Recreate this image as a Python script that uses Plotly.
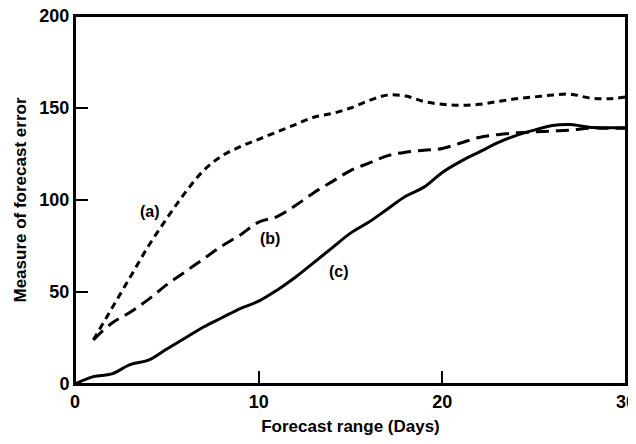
import plotly.graph_objects as go

# curve (a): short dashes
days_a = [1, 2, 3, 4, 5, 6, 7, 8, 9, 10, 11, 12, 13, 14, 15, 16, 17, 18, 19, 20,
          21, 22, 23, 24, 25, 26, 27, 28, 29, 30]
err_a = [24, 41, 58, 75, 90, 104, 116, 124, 129, 133, 137, 141, 145, 147, 150, 154, 157, 156.5, 153.5, 152,
         151.5, 152, 153.5, 155, 156, 157, 157.5, 155.5, 155, 156]

# curve (b): long dashes
days_b = [1, 2, 3, 4, 5, 6, 7, 8, 9, 10, 11, 12, 13, 14, 15, 16, 17, 18, 19, 20,
          21, 22, 23, 24, 25, 26, 27, 28, 29, 30]
err_b = [24, 33, 39, 46, 54, 61, 68, 75, 81, 88, 91, 97, 104, 110, 116, 120, 124, 126, 127, 128,
         131, 134, 135.5, 136.5, 137, 137.5, 138, 139, 139, 139]

# curve (c): solid
days_c = [0, 1, 2, 3, 4, 5, 6, 7, 8, 9, 10, 11, 12, 13, 14, 15, 16, 17, 18, 19,
          20, 21, 22, 23, 24, 25, 26, 27, 28, 29, 30]
err_c = [0, 4, 5.5, 10.5, 13, 19, 25, 31, 36, 41, 45, 51, 58, 66, 74, 82, 88, 95, 102, 107,
         115, 121, 126, 131, 135, 138, 140.5, 141, 139.5, 139.3, 139.3]

labels = ["<b>(a)</b>", "<b>(b)</b>", "<b>(c)</b>"]
label_x = [4.1, 10.6, 14.4]
label_y = [93.5, 79, 61]

font = "Liberation Sans, Arial, sans-serif"

fig = go.Figure()
fig.add_scatter(x=days_a, y=err_a, mode="lines", line=dict(color="black", width=3, dash="7px,5px", shape="spline"))
fig.add_scatter(x=days_b, y=err_b, mode="lines", line=dict(color="black", width=3, dash="13px,7px", shape="spline"))
fig.add_scatter(x=days_c, y=err_c, mode="lines", line=dict(color="black", width=3, shape="spline"))

for t, lx, ly in zip(labels, label_x, label_y):
    fig.add_annotation(x=lx, y=ly, text=t, showarrow=False, font=dict(size=16, color="black", family=font))

# frame round the plot area
fig.add_shape(type="rect", xref="paper", yref="paper", x0=0, y0=0, x1=1, y1=1,
              line=dict(color="black", width=2), layer="above")

axis_style = dict(showline=True, linecolor="black", linewidth=2, mirror=True, ticks="inside", ticklen=13,
                  tickwidth=2, tickcolor="black", showgrid=False, zeroline=False, automargin=False,
                  ticklabeloverflow="allow",
                  tickfont=dict(size=18, color="black", family=font, weight="bold"))

# page body adds an 8px margin, so the figure is a bit smaller than the window
fig.update_layout(
    width=628, height=436,
    margin=dict(l=67, r=10, t=8, b=60),
    plot_bgcolor="white", paper_bgcolor="white",
    showlegend=False,
    xaxis=dict(range=[0, 30], tickvals=[0, 10, 20, 30],
               title=dict(text="<b>Forecast range (Days)</b>", font=dict(size=17, color="black", family=font), standoff=10),
               **axis_style),
    yaxis=dict(range=[0, 200], tickvals=[0, 50, 100, 150, 200],
               title=dict(text="<b>Measure of forecast error</b>", font=dict(size=17, color="black", family=font), standoff=8),
               **axis_style),
)

fig.write_html("out.html")
